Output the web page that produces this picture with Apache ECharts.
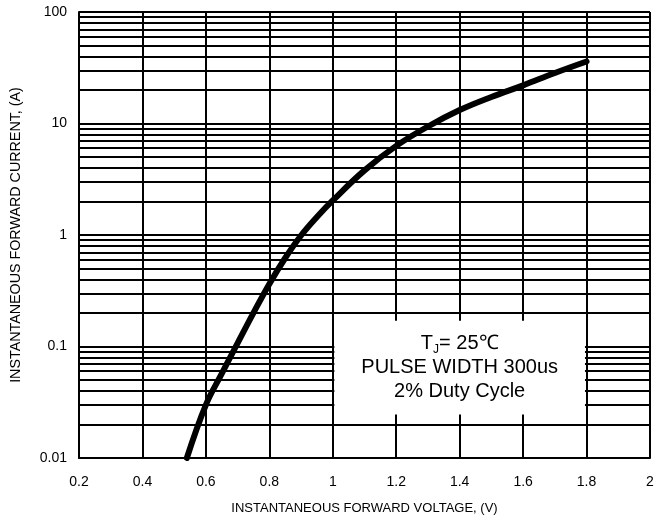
<!DOCTYPE html>
<html>
<head>
<meta charset="utf-8">
<script src="https://cdn.jsdelivr.net/npm/echarts@6/dist/echarts.min.js"></script>
<style>
  html, body { margin: 0; padding: 0; background: #fff; }
  #main { width: 668px; height: 524px; }
</style>
</head>
<body>
<div id="main"></div>
<script>
// curve
var voltage = [0.54, 0.6, 0.65, 0.7, 0.75, 0.8, 0.85, 0.9, 0.95, 1.0, 1.1, 1.2, 1.3, 1.4, 1.5, 1.6, 1.7, 1.8];
var current = [0.01, 0.03, 0.057, 0.107, 0.2, 0.364, 0.622, 0.99, 1.45, 2.04, 3.8, 6.3, 9.4, 13.2, 17.3, 22.0, 28.4, 36];

var yTickLabels = ['0.01', '0.1', '1', '10', '100'];
var decades = [0.01, 0.1, 1, 10];
var mantissas = [2, 3, 4, 5, 6, 7, 8, 9];

// white box with the test conditions (data coords)
var noteBox = [[1.005, 0.0245], [1.795, 0.17]];
var noteText = '{n|T}{s|J}{n|= 25\u2103}\n{n|PULSE WIDTH 300us}\n{n|2% Duty Cycle}';

var curveData = voltage.map(function (v, i) { return [v, current[i]]; });

var minorLines = [];
decades.forEach(function (d) {
    mantissas.forEach(function (m) {
        minorLines.push({ yAxis: +(d * m).toPrecision(3) });
    });
});

var fontFam = '"Liberation Sans", Arial, sans-serif';

var myChart = echarts.init(document.getElementById('main'));
var option = {
    animation: false,
    backgroundColor: '#fff',
    grid: { left: 79, right: 18, top: 12, bottom: 66 },
    xAxis: {
        type: 'value',
        min: 0.2,
        max: 2,
        interval: 0.2,
        name: 'INSTANTANEOUS FORWARD VOLTAGE, (V)',
        nameLocation: 'middle',
        nameGap: 44,
        nameTextStyle: { color: '#000', fontSize: 13, fontFamily: fontFam },
        axisLine: { lineStyle: { color: '#000', width: 2 } },
        axisTick: { show: false },
        axisLabel: {
            color: '#000', fontSize: 14, fontFamily: fontFam, margin: 17,
            formatter: function (v) { return +v.toFixed(1) + ''; }
        },
        splitLine: { show: true, lineStyle: { color: '#000', width: 2 } }
    },
    yAxis: {
        type: 'log',
        logBase: 10,
        min: 0.01,
        max: 100,
        name: 'INSTANTANEOUS FORWARD CURRENT, (A)',
        nameLocation: 'middle',
        nameGap: 56,
        nameTextStyle: { color: '#000', fontSize: 14.3, fontFamily: fontFam },
        axisLine: { lineStyle: { color: '#000', width: 2 } },
        axisTick: { show: false },
        axisLabel: {
            color: '#000', fontSize: 14, fontFamily: fontFam, margin: 12,
            formatter: function (v) {
                var k = Math.round(Math.log10(v)) + 2;
                return yTickLabels[k] !== undefined ? yTickLabels[k] : '';
            }
        },
        splitLine: { show: true, lineStyle: { color: '#000', width: 2 } }
    },
    series: [
        {
            name: 'minor grid',
            type: 'line',
            data: [],
            z: 1,
            silent: true,
            markLine: {
                z: 1,
                silent: true,
                symbol: 'none',
                label: { show: false },
                lineStyle: { color: '#000', width: 2, type: 'solid' },
                emphasis: { disabled: true },
                data: minorLines
            }
        },
        {
            name: 'IF',
            type: 'line',
            data: curveData,
            smooth: 0.4,
            showSymbol: false,
            z: 3,
            lineStyle: { color: '#000', width: 6, cap: 'round' },
            markArea: {
                z: 4,
                silent: true,
                itemStyle: { color: '#fff', opacity: 1 },
                label: {
                    show: true,
                    position: 'inside',
                    formatter: noteText,
                    lineHeight: 24,
                    rich: {
                        n: { color: '#000', fontSize: 20, fontFamily: fontFam, lineHeight: 24 },
                        s: { color: '#000', fontSize: 12, fontFamily: fontFam, verticalAlign: 'bottom', padding: [9, 0, 0, 0] }
                    }
                },
                data: [[{ coord: noteBox[0] }, { coord: noteBox[1] }]]
            }
        }
    ]
};
option && myChart.setOption(option);
</script>
</body>
</html>
